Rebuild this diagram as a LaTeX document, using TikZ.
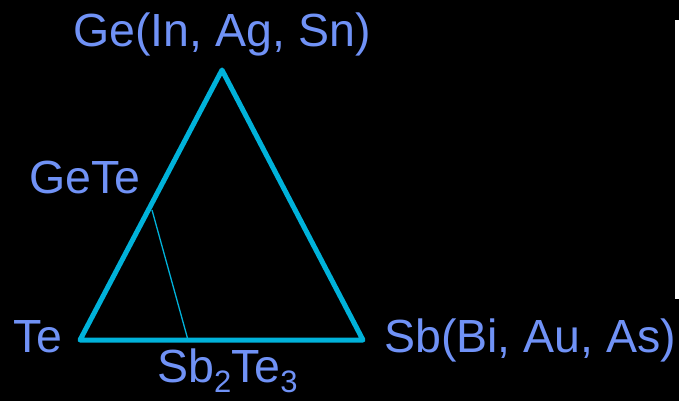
\documentclass[tikz,border=0pt]{standalone}
\usepackage{fontspec}
\setmainfont{Liberation Sans}
\usetikzlibrary{positioning}
\definecolor{labelblue}{RGB}{112,146,246}
\definecolor{edgecyan}{RGB}{0,178,218}
\newcommand{\sbs}[1]{\raisebox{-0.22em}{\fontsize{31}{31}\selectfont #1}}

\begin{document}
\begin{tikzpicture}[x=1pt, y=-1pt,
    corner/.style={font=\fontsize{46.5}{52}\selectfont, text=labelblue, inner sep=0pt},
    edge/.style={draw=edgecyan, line width=5pt, line join=round, line cap=round}]
  % background
  \fill[black] (0,0) rectangle (679,401);
  \useasboundingbox (0,0) rectangle (679,401);
  \fill[white] (675,20) rectangle (679,299);
  % vertices
  \coordinate (ge) at (222,70);
  \coordinate (te) at (80,340);
  \coordinate (sb) at (363,340);
  \coordinate (gete) at (152,210);
  \coordinate (sbte) at (188,340);
  % triangle
  \draw[edge] (ge) -- (sb) -- (te) -- cycle;
  \draw[draw=edgecyan, line width=1.3pt] (gete) -- (sbte);
  % labels
  \node[corner, anchor=base] (lge) at (222,47) {Ge(In, Ag, Sn)};
  \node[corner, anchor=base west] (lte) at (13,352) {Te};
  \node[corner, anchor=base west] (lsb) at (384,352) {Sb(Bi, Au, As)};
  \node[corner, anchor=base west] (lgete) at (29,193) {GeTe};
  \node[corner, anchor=base west] (lsbte) at (157,382) {Sb\sbs{2}Te\sbs{3}};
\end{tikzpicture}
\end{document}
